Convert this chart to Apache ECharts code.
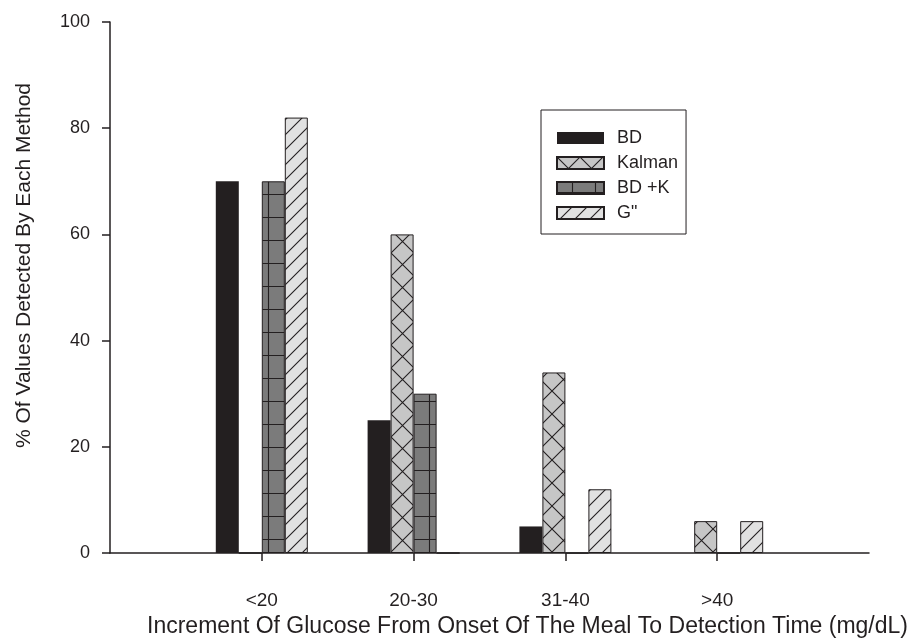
<!DOCTYPE html>
<html>
<head>
<meta charset="utf-8">
<script src="https://cdn.jsdelivr.net/npm/echarts@6/dist/echarts.min.js"></script>
<style>
	html, body {margin: 0; padding: 0; background: #fff;}
	#chart {width: 911px; height: 638px;}
</style>
</head>
<body>
<div id="chart"></div>
<script>
// data
var categories = ['<20', '20-30', '31-40', '>40'];
var bd = [70, 25, 5, 0];
var kalman = [0, 60, 34, 6];
var bdK = [70, 30, 0, 0];
var gSecond = [82, 0, 12, 6];
var yTicks = [0, 20, 40, 60, 80, 100];

var INK = '#231f20';

var CHART = {
	font: 'Liberation Sans, Arial, sans-serif',

	ini: function(){
		var chart = echarts.init(document.getElementById('chart'));
		chart.setOption(this.getOption());
	},
	// empty slot at each end so the groups sit 1..4 on a 0..5 scale
	pad: function(arr){
		return [null].concat(arr).concat([null]);
	},
	tile: function(w, h, bg, draw){
		var c = document.createElement('canvas');
		c.width = w;
		c.height = h;
		var ctx = c.getContext('2d');
		ctx.fillStyle = bg;
		ctx.fillRect(0, 0, w, h);
		ctx.strokeStyle = INK;
		ctx.lineWidth = 1.1;
		draw(ctx, w, h);
		return {image: c, repeat: 'repeat'};
	},
	crossFill: function(){
		return this.tile(23, 23, '#c6c6c6', function(ctx, w, h){
			ctx.beginPath();
			ctx.moveTo(-2, -2); ctx.lineTo(w + 2, h + 2);
			ctx.moveTo(w + 2, -2); ctx.lineTo(-2, h + 2);
			ctx.stroke();
		});
	},
	gridFill: function(){
		return this.tile(23, 23, '#7b7b7b', function(ctx, w, h){
			ctx.beginPath();
			ctx.moveTo(15.5, 0); ctx.lineTo(15.5, h);
			ctx.moveTo(0, 10.5); ctx.lineTo(w, 10.5);
			ctx.stroke();
		});
	},
	hatchFill: function(){
		return this.tile(15, 15, '#e1e1e1', function(ctx, w, h){
			ctx.beginPath();
			for(var k=-1; k<=1; k++){
				ctx.moveTo(k*w - 1, h + 1);
				ctx.lineTo(k*w + w + 1, -1);
			}
			ctx.stroke();
		});
	},
	bar: function(name, values, fill, border){
		return {
			name: name,
			type: 'bar',
			data: this.pad(values),
			barWidth: 23,
			barGap: '0%',
			itemStyle: {
				color: fill,
				borderColor: border ? INK : fill,
				borderWidth: border ? 1 : 0
			}
		};
	},
	getOption: function(){
		var me = this;
		var axisData = [''].concat(categories).concat(['']);
		return {
			animation: false,
			backgroundColor: '#fff',
			textStyle: {fontFamily: me.font, color: INK},
			grid: {left: 110, right: 42, top: 22, bottom: 85, outerBoundsMode: 'none', containLabel: false},
			legend: {
				orient: 'vertical',
				left: 541,
				top: 110,
				padding: [19, 8, 12, 15],
				icon: 'rect',
				itemWidth: 47,
				itemHeight: 12,
				itemGap: 7,
				borderColor: INK,
				borderWidth: 1,
				borderRadius: 0,
				textStyle: {fontFamily: me.font, fontSize: 18, color: INK, padding: [0, 0, 0, 8]},
				data: ['BD', 'Kalman', 'BD +K', 'G"']
			},
			xAxis: {
				type: 'category',
				data: axisData,
				boundaryGap: false,
				axisLine: {lineStyle: {color: INK, width: 1.5}},
				axisTick: {
					length: 8,
					lineStyle: {color: INK, width: 1.5},
					interval: function(i){ return i > 0 && i < axisData.length - 1; }
				},
				axisLabel: {margin: 38, fontSize: 19, color: INK, fontFamily: me.font, interval: 0},
				name: 'Increment Of Glucose From Onset Of The Meal To Detection Time (mg/dL)',
				nameLocation: 'middle',
				nameGap: 62,
				nameTextStyle: {fontSize: 23, color: INK, fontFamily: me.font, padding: [0, 0, 0, 76]}
			},
			yAxis: {
				type: 'value',
				min: yTicks[0],
				max: yTicks[yTicks.length - 1],
				interval: yTicks[1] - yTicks[0],
				splitLine: {show: false},
				axisLine: {show: true, lineStyle: {color: INK, width: 1.5}},
				axisTick: {show: true, length: 8, lineStyle: {color: INK, width: 1.5}},
				axisLabel: {margin: 20, fontSize: 18, color: INK, fontFamily: me.font},
				name: '% Of Values Detected By Each Method',
				nameLocation: 'middle',
				nameGap: 75,
				nameTextStyle: {fontSize: 21, color: INK, fontFamily: me.font, padding: [0, 0, 0, 44]}
			},
			series: [
				me.bar('BD', bd, INK, false),
				me.bar('Kalman', kalman, me.crossFill(), true),
				me.bar('BD +K', bdK, me.gridFill(), true),
				me.bar('G"', gSecond, me.hatchFill(), true)
			]
		};
	}
};

CHART.ini();
</script>
</body>
</html>
